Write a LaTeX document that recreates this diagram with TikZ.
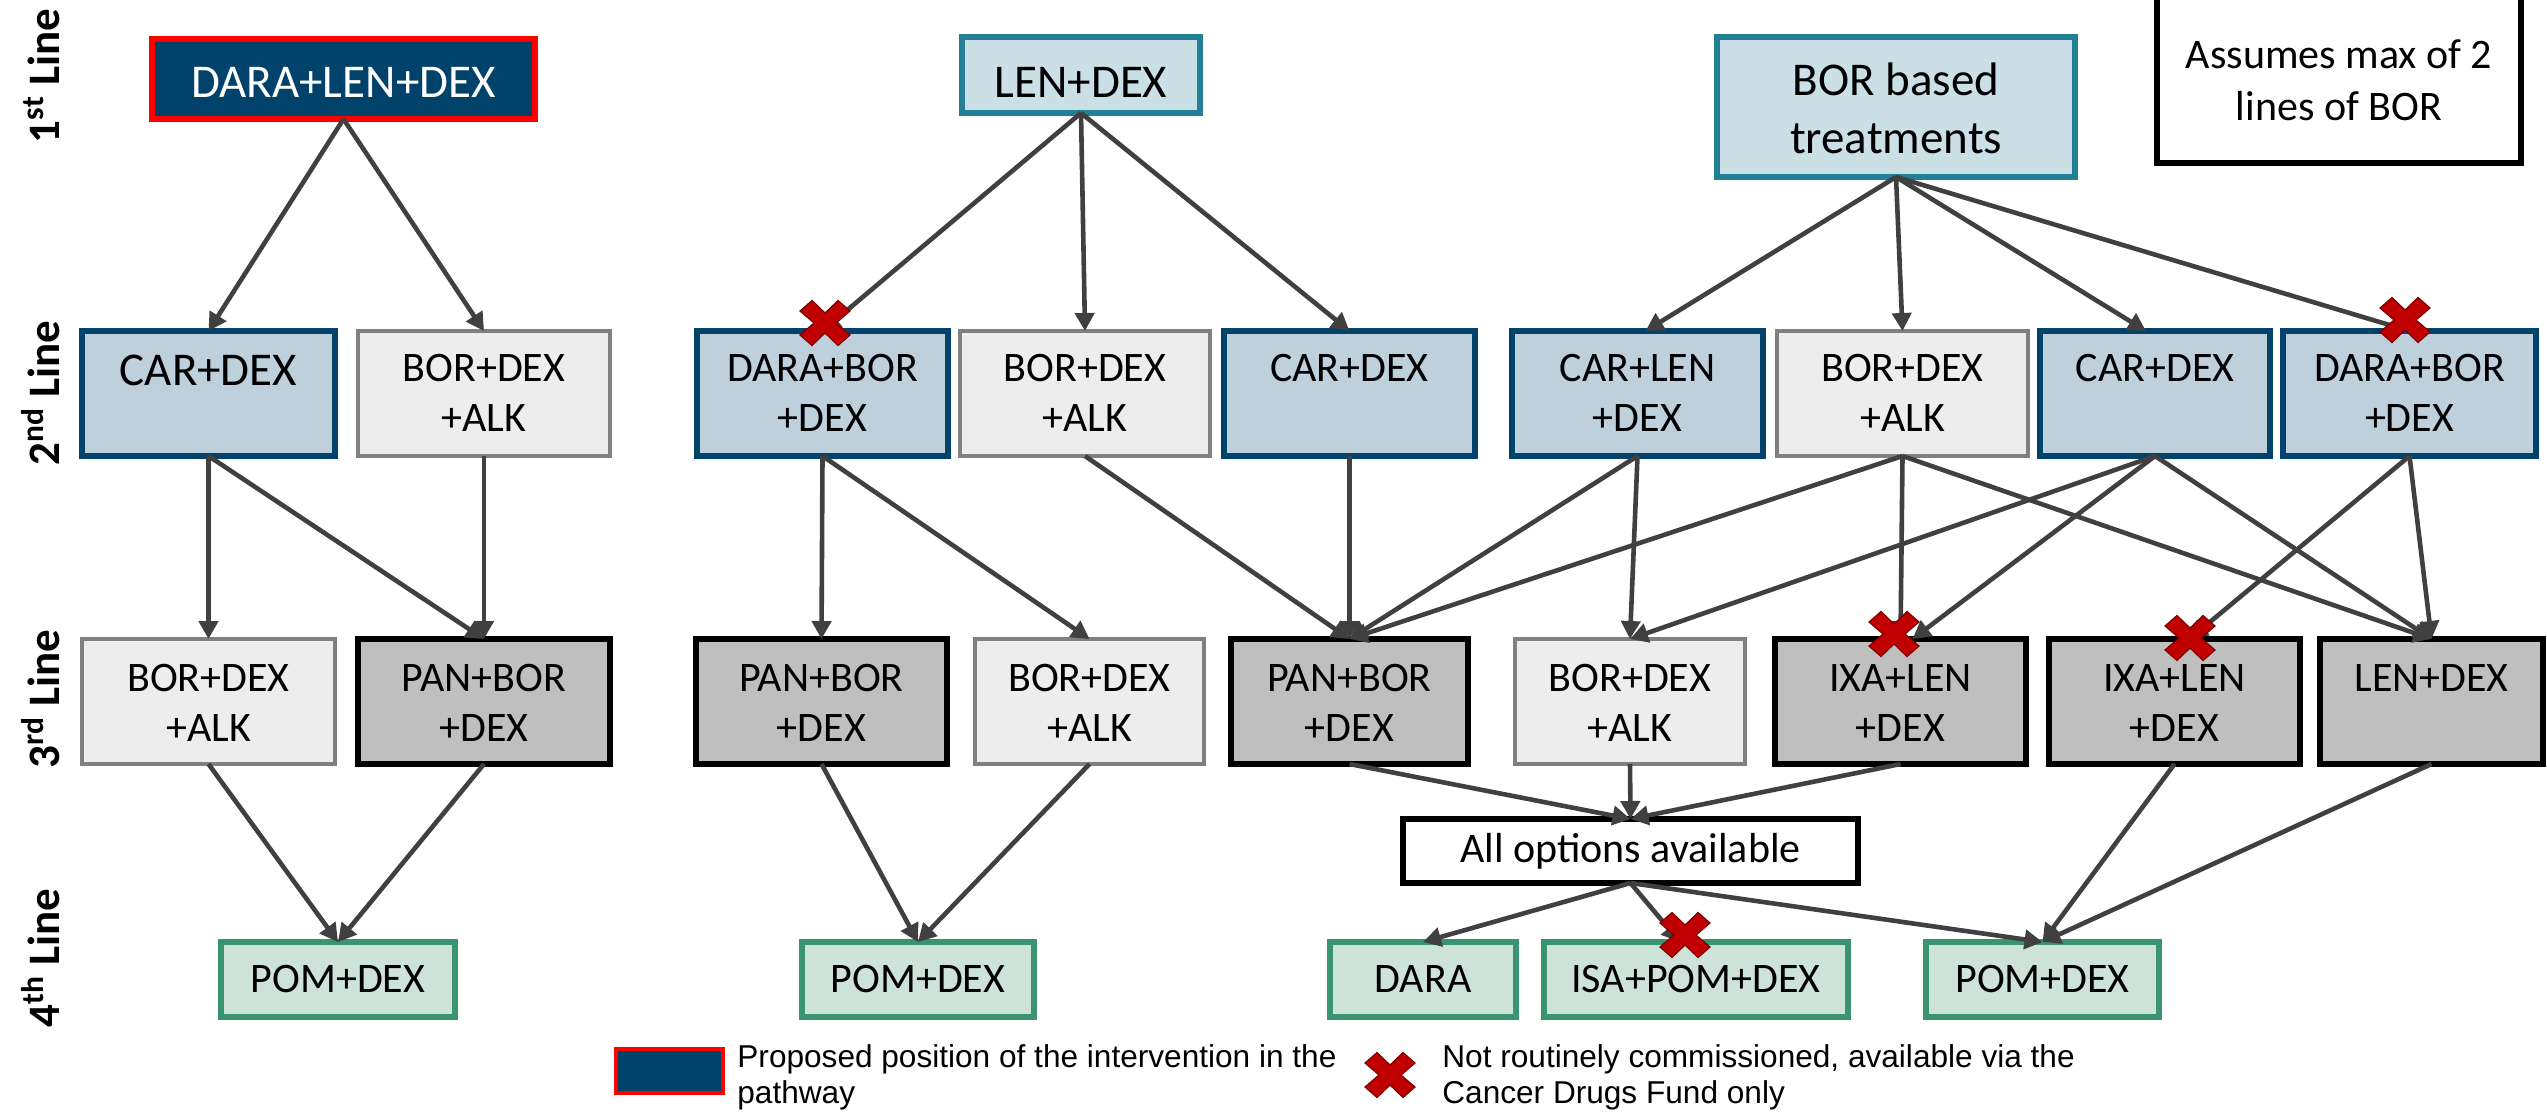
\documentclass[tikz,border=0pt]{standalone}
\usepackage{fontspec}
\setmainfont{Carlito}
\newfontfamily\legfont{Liberation Sans}
\usetikzlibrary{arrows.meta,calc}

\definecolor{navy}{HTML}{00426A}
\definecolor{redb}{HTML}{FF0000}
\definecolor{tealfill}{HTML}{CBE0E6}
\definecolor{tealline}{HTML}{237F93}
\definecolor{bluefill}{HTML}{BED0DC}
\definecolor{blueline}{HTML}{03426B}
\definecolor{lgfill}{HTML}{EDEDED}
\definecolor{lgline}{HTML}{808080}
\definecolor{dgfill}{HTML}{BFBFBF}
\definecolor{grfill}{HTML}{CDE3DA}
\definecolor{grline}{HTML}{3A9470}
\definecolor{arr}{HTML}{404040}
\definecolor{xred}{HTML}{C00000}
\definecolor{xline}{HTML}{7F0000}

\tikzset{
 bbase/.style={rectangle, inner sep=0pt, outer sep=0pt},
 propbox/.style={bbase, fill=navy, draw=redb, line width=3pt},
 tealbox/.style={bbase, fill=tealfill, draw=tealline, line width=3pt},
 bluebox/.style={bbase, fill=bluefill, draw=blueline, line width=2.6pt},
 lgbox/.style={bbase, fill=lgfill, draw=lgline, line width=2.2pt},
 dgbox/.style={bbase, fill=dgfill, draw=black, line width=2.9pt},
 grbox/.style={bbase, fill=grfill, draw=grline, line width=3pt},
 wbox/.style={bbase, fill=white, draw=black, line width=2.6pt},
 tsm/.style={font=\fontsize{21pt}{25pt}\selectfont, align=center, inner sep=0pt},
 tbig/.style={font=\fontsize{23.5pt}{29pt}\selectfont, align=center, inner sep=0pt},
 conn/.style={draw=arr, line width=2.3pt, -{Triangle[length=9pt,width=9.5pt]}},
 rowlab/.style={font=\fontsize{22.5pt}{27pt}\selectfont\bfseries, rotate=90, anchor=base, inner sep=0pt},
 leg/.style={font=\legfont\fontsize{15.8pt}{18pt}\selectfont, align=left, anchor=base west, inner sep=0pt},
 redx/.pic={\filldraw[fill=xred, draw=xline, line width=0.6pt] (-25,-12) -- (-13,-22.5) -- (0,-10) -- (13,-22.5) -- (25,-12) -- (11,0) -- (25,12) -- (13,22.5) -- (0,10) -- (-13,22.5) -- (-25,12) -- (-11,0) -- cycle;}
}

\newcommand\bx[7]{\node[#1, anchor=north west, minimum width={(#5-#3)*0.5pt}, minimum height={(#6-#4)*0.5pt}] (#2) at (#3,#4) {#7};}
% text node: anchor base = baseline of the LAST line
\newcommand\tx[4]{\node[#1, anchor=base] (#2t) at ([yshift=#3]#2.north) {#4};}

\begin{document}
\begin{tikzpicture}[x=0.5pt,y=-0.5pt]
\path[use as bounding box] (0,0) rectangle (2547,1114);
\clip (0,0) rectangle (2547,1114);

% row labels
\node[rowlab] (l1) at (59,76) {1\textsuperscript{st} Line};
\node[rowlab] (l2) at (59,393) {2\textsuperscript{nd} Line};
\node[rowlab] (l3) at (59,699) {3\textsuperscript{rd} Line};
\node[rowlab] (l4) at (59,958) {4\textsuperscript{th} Line};

% row 1
\bx{propbox}{dlen}{152}{39}{535}{119}{}
\tx{tbig, text=white}{dlen}{-29pt}{DARA+LEN+DEX}
\bx{tealbox}{len1}{962}{37}{1200}{113}{}
\tx{tbig}{len1}{-30pt}{LEN+DEX}
\bx{tealbox}{borb}{1717}{37}{2075}{177}{}
\tx{tbig}{borb}{-58pt}{BOR based\\treatments}
\node[wbox, anchor=north west, minimum width=182pt, minimum height=90pt] (assume) at (2157,-17) {};
\node[tsm, font=\fontsize{21pt}{26pt}\selectfont, anchor=base] (assumet) at (2339,120) {Assumes max of 2\\lines of BOR};

% row 2
\bx{bluebox}{car1}{82}{331}{335}{456}{}
\tx{tbig}{car1}{-27pt}{CAR+DEX}
\bx{lgbox}{bda1}{358}{331}{610}{456}{}
\tx{tsm}{bda1}{-50pt}{BOR+DEX\\+ALK}
\bx{bluebox}{dbd2}{697}{331}{948}{456}{}
\tx{tsm}{dbd2}{-50pt}{DARA+BOR\\+DEX}
\bx{lgbox}{bda2}{960}{331}{1210}{456}{}
\tx{tsm}{bda2}{-50pt}{BOR+DEX\\+ALK}
\bx{bluebox}{car2}{1224}{331}{1475}{456}{}
\tx{tsm}{car2}{-25pt}{CAR+DEX}
\bx{bluebox}{cld3}{1512}{331}{1763}{456}{}
\tx{tsm}{cld3}{-50pt}{CAR+LEN\\+DEX}
\bx{lgbox}{bda3}{1777}{331}{2028}{456}{}
\tx{tsm}{bda3}{-50pt}{BOR+DEX\\+ALK}
\bx{bluebox}{car3}{2040}{331}{2270}{456}{}
\tx{tsm}{car3}{-25pt}{CAR+DEX}
\bx{bluebox}{dbd3}{2283}{331}{2536}{456}{}
\tx{tsm}{dbd3}{-50pt}{DARA+BOR\\+DEX}

% row 3
\bx{lgbox}{bda1r}{82}{639}{335}{764}{}
\tx{tsm}{bda1r}{-51pt}{BOR+DEX\\+ALK}
\bx{dgbox}{pbd1}{358}{639}{610}{764}{}
\tx{tsm}{pbd1}{-51pt}{PAN+BOR\\+DEX}
\bx{dgbox}{pbd2a}{696}{639}{947}{764}{}
\tx{tsm}{pbd2a}{-51pt}{PAN+BOR\\+DEX}
\bx{lgbox}{bda2r}{975}{639}{1204}{764}{}
\tx{tsm}{bda2r}{-51pt}{BOR+DEX\\+ALK}
\bx{dgbox}{pbd2b}{1231}{639}{1468}{764}{}
\tx{tsm}{pbd2b}{-51pt}{PAN+BOR\\+DEX}
\bx{lgbox}{bda3r}{1515}{639}{1745}{764}{}
\tx{tsm}{bda3r}{-51pt}{BOR+DEX\\+ALK}
\bx{dgbox}{ixa1}{1775}{639}{2026}{764}{}
\tx{tsm}{ixa1}{-51pt}{IXA+LEN\\+DEX}
\bx{dgbox}{ixa2}{2049}{639}{2300}{764}{}
\tx{tsm}{ixa2}{-51pt}{IXA+LEN\\+DEX}
\bx{dgbox}{len3}{2320}{639}{2543}{764}{}
\tx{tsm}{len3}{-26pt}{LEN+DEX}

% row 4
\bx{wbox, tsm}{allo}{1403}{819}{1858}{883}{All options available}
\bx{grbox, tsm}{pom1}{221}{942}{455}{1017}{POM+DEX}
\bx{grbox, tsm}{pom2}{802}{942}{1034}{1017}{POM+DEX}
\bx{grbox, tsm}{dara4}{1330}{942}{1516}{1017}{DARA}
\bx{grbox, tsm}{isa4}{1544}{942}{1848}{1017}{ISA+POM+DEX}
\bx{grbox, tsm}{pom3}{1926}{942}{2159}{1017}{POM+DEX}

% connectors group 1
\draw[conn] (dlen.south) -- (car1.north);
\draw[conn] (dlen.south) -- (bda1.north);
\draw[conn] (car1.south) -- (bda1r.north);
\draw[conn] (car1.south) -- (pbd1.north);
\draw[conn] (bda1.south) -- (pbd1.north);
\draw[conn] (bda1r.south) -- (pom1.north);
\draw[conn] (pbd1.south) -- (pom1.north);
% group 2
\draw[conn] (len1.south) -- (dbd2.north);
\draw[conn] (len1.south) -- (bda2.north);
\draw[conn] (len1.south) -- (car2.north);
\draw[conn] (dbd2.south) -- (pbd2a.north);
\draw[conn] (dbd2.south) -- (bda2r.north);
\draw[conn] (bda2.south) -- (pbd2b.north);
\draw[conn] (car2.south) -- (pbd2b.north);
\draw[conn] (pbd2a.south) -- (pom2.north);
\draw[conn] (bda2r.south) -- (pom2.north);
% group 3
\draw[conn] (borb.south) -- ([xshift=4pt]cld3.north);
\draw[conn] (borb.south) -- (bda3.north);
\draw[conn] (borb.south) -- ([xshift=-4.5pt]car3.north);
\draw[conn] (borb.south) -- (dbd3.north);
\draw[conn] (cld3.south) -- (pbd2b.north);
\draw[conn] (bda3.south) -- (pbd2b.north);
\draw[conn] (cld3.south) -- (bda3r.north);
\draw[conn] (bda3.south) -- (ixa1.north);
\draw[conn] (bda3.south) -- (len3.north);
\draw[conn] (car3.south) -- (bda3r.north);
\draw[conn] (car3.south) -- ([xshift=6pt]ixa1.north);
\draw[conn] (car3.south) -- (len3.north);
\draw[conn] (dbd3.south) -- ([xshift=7.5pt]ixa2.north);
\draw[conn] (dbd3.south) -- (len3.north);
\draw[conn] (pbd2b.south) -- (allo.north);
\draw[conn] (bda3r.south) -- (allo.north);
\draw[conn] (ixa1.south) -- (allo.north);
\draw[conn] (allo.south) -- (dara4.north);
\draw[conn] (allo.south) -- ([xshift=-8pt]isa4.north);
\draw[conn] (allo.south) -- (pom3.north);
\draw[conn] (ixa2.south) -- (pom3.north);
\draw[conn] (len3.south) -- (pom3.north);

% red crosses
\pic at ($(dbd2.north)+(2.5,-8)$) {redx};
\pic at ($(dbd3.north)+(-4.5,-11)$) {redx};
\pic at ($(ixa1.north)+(-6.5,-5)$) {redx};
\pic at ($(ixa2.north)+(15.5,-1)$) {redx};
\pic at ($(isa4.north)+(-11,-7)$) {redx};

% legend
\node[propbox, line width=2pt, anchor=north west, minimum width=53.5pt, minimum height=22pt] (legbox) at (616,1049) {};
\node[leg] (legt1) at (737,1103) {Proposed position of the intervention in the\\pathway};
\pic at (1390,1075) {redx};
\node[leg] (legt2) at (1442,1103) {Not routinely commissioned, available via the\\Cancer Drugs Fund only};
\end{tikzpicture}
\end{document}
